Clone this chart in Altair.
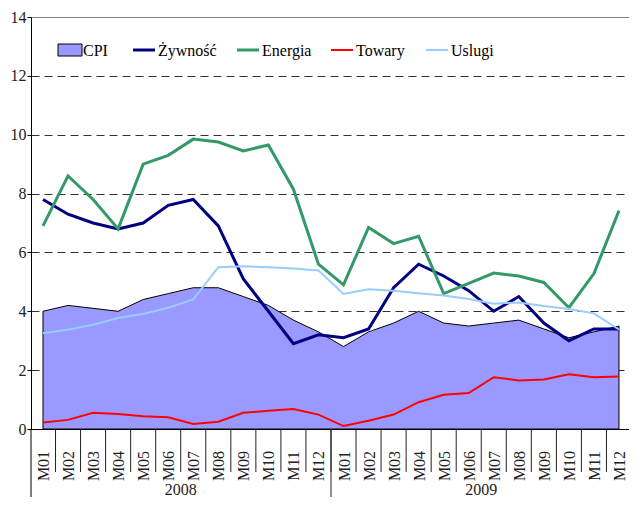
import altair as alt
import pandas as pd

# ---------------- data ----------------
months = ["M01", "M02", "M03", "M04", "M05", "M06", "M07", "M08", "M09", "M10", "M11", "M12"]
years = ["2008", "2009"]

cpi = [4.0, 4.2, 4.1, 4.0, 4.4, 4.6, 4.8, 4.8, 4.5, 4.2, 3.7, 3.3,
       2.8, 3.3, 3.6, 4.0, 3.6, 3.5, 3.6, 3.7, 3.4, 3.1, 3.3, 3.5]
zywnosc = [7.8, 7.3, 7.0, 6.8, 7.0, 7.6, 7.8, 6.9, 5.1, 4.0, 2.9, 3.2,
           3.1, 3.4, 4.8, 5.6, 5.2, 4.7, 4.0, 4.5, 3.6, 3.0, 3.4, 3.4]
energia = [6.9, 8.6, 7.8, 6.8, 9.0, 9.3, 9.85, 9.75, 9.45, 9.65, 8.15, 5.6,
           4.9, 6.85, 6.3, 6.55, 4.6, 4.95, 5.3, 5.2, 4.98, 4.12, 5.28, 7.42]
towary = [0.22, 0.31, 0.55, 0.51, 0.43, 0.4, 0.17, 0.25, 0.55, 0.62, 0.68, 0.49,
          0.1, 0.28, 0.49, 0.91, 1.16, 1.22, 1.76, 1.65, 1.68, 1.86, 1.76, 1.78]
uslugi = [3.25, 3.37, 3.54, 3.77, 3.91, 4.12, 4.4, 5.5, 5.53, 5.5, 5.45, 5.39,
          4.59, 4.75, 4.7, 4.61, 4.54, 4.42, 4.26, 4.3, 4.18, 4.08, 3.93, 3.38]

series_names = ["Żywność", "Energia", "Towary", "Uslugi"]
legend_names = ["CPI", "Żywność", "Energia", "Towary", "Uslugi"]

# ---------------- styles ----------------
FONT = "Liberation Serif"
CPI_FILL = "#9999FF"
series_colors = ["#000080", "#339966", "#FF0000", "#99CCFF"]
series_widths = [3, 3, 2, 2]
legend_x = [27, 102, 206, 300, 395]   # pixel offsets of legend symbols
legend_text_dx = [25, 25, 25, 25, 25]

W, H = 598, 412

df = pd.DataFrame({
    "i": list(range(len(months) * len(years))),
    "month": [m for _ in years for m in months],
    "year": [y for y in years for _ in months],
    "CPI": cpi,
    "Żywność": zywnosc,
    "Energia": energia,
    "Towary": towary,
    "Uslugi": uslugi,
})

xscale = alt.Scale(domain=[-0.479, 23.40], nice=False, zero=False)
yscale = alt.Scale(domain=[0, 14], nice=False, zero=True)

x_axis = alt.X("i:Q", scale=xscale, title=None,
               axis=alt.Axis(labels=False, ticks=False, grid=False, domainColor="black",
                             domainWidth=1, title=None))
x_plain = alt.X("i:Q", scale=xscale, title=None)

y_axis = alt.Axis(values=[0, 2, 4, 6, 8, 10, 12, 14], title=None,
                  grid=True,
                  gridDash={"condition": {"test": "datum.value === 14", "value": []}, "value": [8, 5]},
                  gridColor={"condition": {"test": "datum.value === 14", "value": "#808080"}, "value": "#333333"},
                  gridWidth=1, gridOpacity=1,
                  domainColor="black", domainWidth=1,
                  tickColor="black", tickSize=4, labelPadding=1,
                  labelFont=FONT, labelFontSize=16, labelColor="#222222")

area = alt.Chart(df).mark_area(fill=CPI_FILL, stroke="black", strokeWidth=1, opacity=1).encode(
    x=x_axis,
    y=alt.Y("CPI:Q", scale=yscale, title=None, axis=y_axis),
)

lines = []
for name, col, w in zip(series_names, series_colors, series_widths):
    lines.append(
        alt.Chart(df).mark_line(color=col, strokeWidth=w, strokeJoin="miter").encode(
            x=x_plain,
            y=alt.Y(f"{name}:Q", scale=yscale, title=None),
        )
    )

# month separators and labels
sep_df = pd.DataFrame({"b": [i + 0.5 for i in df["i"][:-1]]})
year_break = df.groupby("year")["i"].max().iloc[0] + 0.5
seps = alt.Chart(sep_df).mark_rule(color="#222222", strokeWidth=1).encode(
    x=alt.X("b:Q", scale=xscale, title=None),
    y=alt.value(H), y2=alt.value(H + 43),
)
year_sep = alt.Chart(pd.DataFrame({"b": [year_break]})).mark_rule(color="#222222", strokeWidth=1).encode(
    x=alt.X("b:Q", scale=xscale, title=None),
    y=alt.value(H), y2=alt.value(H + 76),
)
left_ext = alt.Chart(pd.DataFrame({"a": [0]})).mark_rule(color="black", strokeWidth=1).encode(
    x=alt.value(0), y=alt.value(H), y2=alt.value(H + 76),
)

month_labels = alt.Chart(df).mark_text(angle=270, font=FONT, fontSize=16, color="#222222",
                                       align="center", baseline="middle", dy=1).encode(
    x=x_plain, y=alt.value(H + 37), text="month:N",
)

year_df = df.groupby("year", as_index=False)["i"].mean()
year_labels = alt.Chart(year_df).mark_text(font=FONT, fontSize=16, color="#222222",
                                           align="center", baseline="alphabetic").encode(
    x=x_plain, y=alt.value(H + 66), text="year:N",
)

# legend
legend_layers = []
one = pd.DataFrame({"a": [0]})
LY = 33
legend_layers.append(
    alt.Chart(one).mark_rect(fill=CPI_FILL, stroke="black", strokeWidth=1).encode(
        x=alt.value(legend_x[0]), x2=alt.value(legend_x[0] + 24),
        y=alt.value(LY - 6), y2=alt.value(LY + 6),
    )
)
for k, (col, w) in enumerate(zip(series_colors, series_widths), start=1):
    legend_layers.append(
        alt.Chart(one).mark_rule(color=col, strokeWidth=w).encode(
            x=alt.value(legend_x[k]), x2=alt.value(legend_x[k] + 22),
            y=alt.value(LY), y2=alt.value(LY),
        )
    )
for k, name in enumerate(legend_names):
    legend_layers.append(
        alt.Chart(one).mark_text(font=FONT, fontSize=16, color="black", align="left",
                                 baseline="middle", dy=1).encode(
            x=alt.value(legend_x[k] + legend_text_dx[k]), y=alt.value(LY),
            text=alt.value(name),
        )
    )

chart = alt.layer(area, *lines, seps, year_sep, left_ext, month_labels, year_labels,
                  *legend_layers).properties(
    width=W, height=H,
    autosize=alt.AutoSizeParams(type="none"),
    padding={"left": 23, "top": 9, "right": 0, "bottom": 68},
    background="white",
).configure_view(stroke=None)

chart.save("out.html", embed_options={"renderer": "svg", "actions": False})
